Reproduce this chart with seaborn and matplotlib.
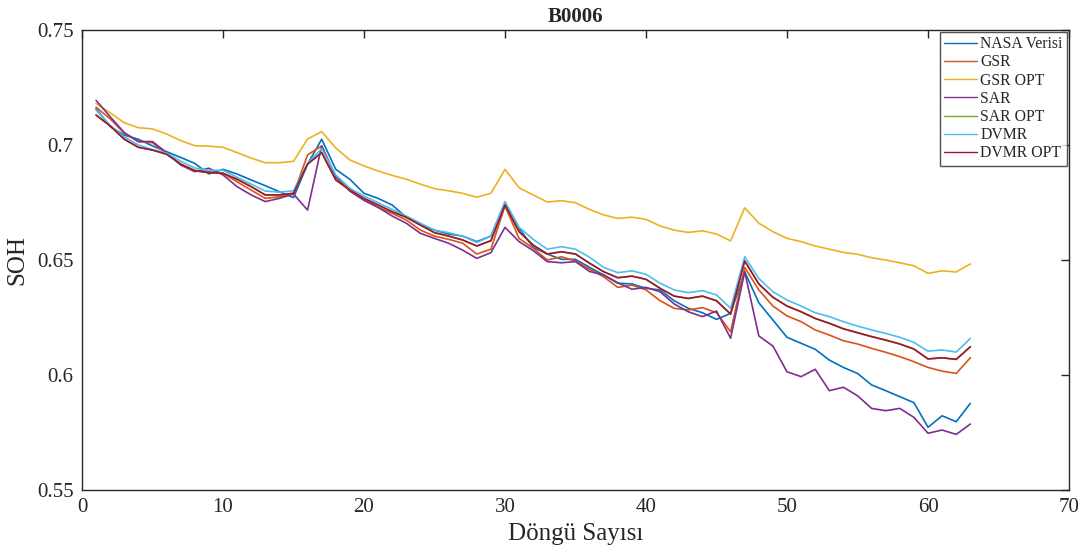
import numpy as np
import pandas as pd
import seaborn as sns
import matplotlib
matplotlib.use('Agg')
import matplotlib.pyplot as plt
from matplotlib.ticker import FuncFormatter

# cycle numbers 1..63
cycles = list(range(1, 64))

nasa = [0.7158, 0.7080, 0.7043, 0.7025, 0.6996, 0.6971, 0.6946, 0.6920, 0.6874, 0.6894,
        0.6874, 0.6848, 0.6823, 0.6797, 0.6771, 0.6917, 0.7025, 0.6894, 0.6851, 0.6790,
        0.6768, 0.6739, 0.6686, 0.6652, 0.6630, 0.6613, 0.6604, 0.6580, 0.6604, 0.6749,
        0.6638, 0.6555, 0.6526, 0.6503, 0.6503, 0.6468, 0.6435, 0.6399, 0.6396, 0.6377,
        0.6370, 0.6323, 0.6290, 0.6271, 0.6242, 0.6268, 0.6449, 0.6314, 0.6239, 0.6164,
        0.6138, 0.6112, 0.6065, 0.6033, 0.6007, 0.5957, 0.5932, 0.5906, 0.5880, 0.5773,
        0.5823, 0.5797, 0.5877]

gsr = [0.7164, 0.7114, 0.7051, 0.7015, 0.7010, 0.6964, 0.6917, 0.6890, 0.6884, 0.6877,
       0.6840, 0.6804, 0.6768, 0.6775, 0.6787, 0.6957, 0.6996, 0.6862, 0.6800, 0.6760,
       0.6729, 0.6703, 0.6674, 0.6630, 0.6604, 0.6590, 0.6573, 0.6526, 0.6547, 0.6735,
       0.6594, 0.6551, 0.6500, 0.6514, 0.6496, 0.6460, 0.6427, 0.6381, 0.6391, 0.6370,
       0.6323, 0.6290, 0.6283, 0.6293, 0.6271, 0.6188, 0.6468, 0.6370, 0.6300, 0.6257,
       0.6232, 0.6196, 0.6174, 0.6149, 0.6135, 0.6116, 0.6099, 0.6080, 0.6058, 0.6033,
       0.6017, 0.6007, 0.6075]

gsr_opt = [0.7180, 0.7140, 0.7097, 0.7075, 0.7070, 0.7048, 0.7019, 0.6997, 0.6995, 0.6990,
           0.6967, 0.6943, 0.6923, 0.6923, 0.6929, 0.7026, 0.7058, 0.6987, 0.6935, 0.6909,
           0.6887, 0.6868, 0.6851, 0.6830, 0.6810, 0.6801, 0.6790, 0.6773, 0.6790, 0.6894,
           0.6814, 0.6783, 0.6752, 0.6758, 0.6749, 0.6720, 0.6696, 0.6681, 0.6686, 0.6677,
           0.6648, 0.6630, 0.6620, 0.6627, 0.6613, 0.6583, 0.6727, 0.6660, 0.6623, 0.6594,
           0.6580, 0.6561, 0.6547, 0.6533, 0.6525, 0.6510, 0.6500, 0.6488, 0.6475, 0.6442,
           0.6453, 0.6448, 0.6483]

sar = [0.7194, 0.7123, 0.7054, 0.7015, 0.7015, 0.6967, 0.6913, 0.6884, 0.6899, 0.6870,
       0.6819, 0.6783, 0.6754, 0.6768, 0.6787, 0.6717, 0.6996, 0.6862, 0.6800, 0.6760,
       0.6729, 0.6691, 0.6660, 0.6616, 0.6594, 0.6573, 0.6543, 0.6507, 0.6532, 0.6642,
       0.6580, 0.6541, 0.6493, 0.6488, 0.6493, 0.6450, 0.6435, 0.6401, 0.6373, 0.6381,
       0.6362, 0.6309, 0.6275, 0.6254, 0.6278, 0.6160, 0.6449, 0.6170, 0.6126, 0.6014,
       0.5993, 0.6025, 0.5932, 0.5947, 0.5910, 0.5855, 0.5845, 0.5855, 0.5816, 0.5747,
       0.5761, 0.5742, 0.5787]

dvmr = [0.7152, 0.7085, 0.7035, 0.7000, 0.6980, 0.6965, 0.6930, 0.6900, 0.6890, 0.6890,
        0.6860, 0.6830, 0.6800, 0.6795, 0.6801, 0.6920, 0.6985, 0.6870, 0.6812, 0.6778,
        0.6749, 0.6720, 0.6691, 0.6660, 0.6630, 0.6619, 0.6604, 0.6576, 0.6604, 0.6754,
        0.6642, 0.6590, 0.6547, 0.6558, 0.6547, 0.6512, 0.6468, 0.6445, 0.6453, 0.6438,
        0.6399, 0.6370, 0.6358, 0.6367, 0.6348, 0.6290, 0.6514, 0.6420, 0.6362, 0.6326,
        0.6300, 0.6271, 0.6254, 0.6232, 0.6213, 0.6196, 0.6181, 0.6164, 0.6142, 0.6104,
        0.6109, 0.6100, 0.6159]

dvmr_opt = [0.7130, 0.7083, 0.7025, 0.6990, 0.6978, 0.6960, 0.6917, 0.6888, 0.6880, 0.6877,
            0.6851, 0.6819, 0.6783, 0.6783, 0.6790, 0.6917, 0.6967, 0.6848, 0.6804, 0.6768,
            0.6739, 0.6710, 0.6686, 0.6652, 0.6619, 0.6604, 0.6587, 0.6561, 0.6584, 0.6739,
            0.6623, 0.6565, 0.6526, 0.6536, 0.6526, 0.6486, 0.6449, 0.6423, 0.6430, 0.6416,
            0.6377, 0.6343, 0.6333, 0.6343, 0.6323, 0.6265, 0.6496, 0.6396, 0.6338, 0.6300,
            0.6275, 0.6246, 0.6225, 0.6201, 0.6184, 0.6167, 0.6152, 0.6135, 0.6113, 0.6070,
            0.6075, 0.6068, 0.6123]

# SAR OPT sits underneath DVMR OPT in the original
sar_opt = list(dvmr_opt)

names = ['NASA Verisi', 'GSR', 'GSR OPT', 'SAR', 'SAR OPT', 'DVMR', 'DVMR OPT']
series = [nasa, gsr, gsr_opt, sar, sar_opt, dvmr, dvmr_opt]
colors = ['#0072BD', '#D95319', '#EDB120', '#7E2F8E', '#77AC30', '#4DBEEE', '#A2142F']

df = pd.concat([pd.DataFrame({'cycle': cycles, 'soh': s, 'model': n})
                for n, s in zip(names, series)], ignore_index=True)

sns.set_style('white')
plt.rcParams['font.family'] = ['Liberation Serif', 'DejaVu Serif']

fig = plt.figure(figsize=(10.84, 5.55), dpi=100)
ax = fig.add_axes([0.0756, 0.117, 0.9106, 0.829])

sns.lineplot(data=df, x='cycle', y='soh', hue='model', hue_order=names,
             palette=dict(zip(names, colors)), linewidth=1.2, ax=ax,
             estimator=None, sort=False)

ax.set_xlim(0, 70)
ax.set_ylim(0.55, 0.75)
ax.set_xticks(range(0, 71, 10))
ax.set_yticks([0.55, 0.6, 0.65, 0.7, 0.75])
ax.yaxis.set_major_formatter(FuncFormatter(lambda v, p: '%g' % round(v, 2)))
ax.tick_params(direction='in', length=6, width=1, top=True, right=True,
               labelsize=15, colors='#262626', pad=6)
for sp in ax.spines.values():
    sp.set_color('#262626')
    sp.set_linewidth(1.0)

ax.set_title('B0006', fontsize=15, fontweight='bold', pad=6)
ax.set_xlabel('Döngü Sayısı', fontsize=18, color='#262626', labelpad=4)
ax.set_ylabel('SOH', fontsize=18, color='#262626', labelpad=6)

leg = ax.legend(loc='upper right', bbox_to_anchor=(1.0, 1.0), borderaxespad=0.1,
                fontsize=11.3, frameon=True, fancybox=False, handlelength=2.1,
                handletextpad=0.2, labelspacing=0.14, borderpad=0.3)
leg.get_frame().set_edgecolor('#262626')
leg.get_frame().set_linewidth(1.0)
for h in leg.get_lines():
    h.set_linewidth(1.0)

plt.savefig('out.png', dpi=100)
